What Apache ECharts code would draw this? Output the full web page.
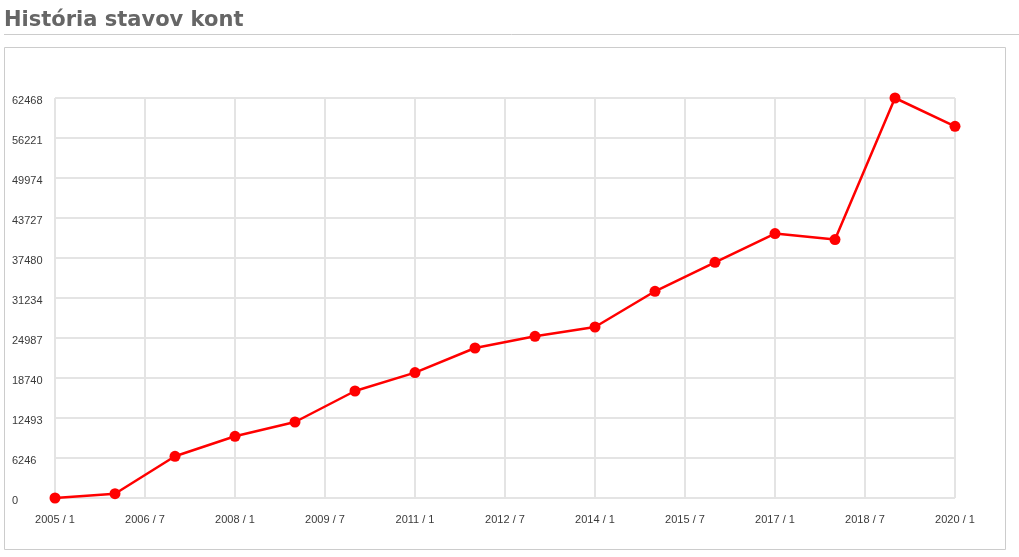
<!DOCTYPE html>
<html>
<head>
<meta charset="utf-8">
<script src="https://cdn.jsdelivr.net/npm/echarts@6/dist/echarts.min.js"></script>
<style>
html,body{margin:0;padding:0;background:#fff;}
#chart{width:1019px;height:557px;}
</style>
</head>
<body>
<div id="chart"></div>
<script>
// Data
var titleText = 'História stavov kont';
var years = [2005,2006,2007,2008,2009,2010,2011,2012,2013,2014,2015,2016,2017,2018,2019,2020];
var balances = [0,670,6512,9636,11869,16710,19584,23425,25253,26705,32281,36800,41290,40353,62468,58047];
var xTickLabels = ['2005 / 1','2006 / 7','2008 / 1','2009 / 7','2011 / 1','2012 / 7','2014 / 1','2015 / 7','2017 / 1','2018 / 7','2020 / 1'];
var yTickLabels = ['0','6246','12493','18740','24987','31234','37480','43727','49974','56221','62468'];

var baseYear = years[0];
var seriesData = years.map(function(y, i){ return [(y - baseYear) * 12, balances[i]]; });
var yMax = 62468;
var yStep = yMax / (yTickLabels.length - 1);
var xStep = 18;

var chart = echarts.init(document.getElementById('chart'), null, {renderer:'canvas'});
chart.setOption({
  animation:false,
  backgroundColor:'#fff',
  title:{
    text:titleText,
    left:4, top:10, padding:0,
    textStyle:{fontFamily:'DejaVu Sans, sans-serif', fontSize:21, fontWeight:'bold', color:'#666'}
  },
  graphic:[
    {type:'line', shape:{x1:4, y1:34.5, x2:1019, y2:34.5}, style:{stroke:'#cccccc', lineWidth:1}, silent:true},
    {type:'rect', shape:{x:4.5, y:47.5, width:1001, height:502}, style:{fill:null, stroke:'#cccccc', lineWidth:1}, silent:true}
  ],
  grid:{left:55, top:98, width:900, height:400, containLabel:false},
  xAxis:{
    type:'value', min:0, max:(years[years.length-1]-baseYear)*12, interval:xStep,
    axisLine:{show:false}, axisTick:{show:false},
    axisLabel:{
      margin:16, color:'#3a3a3a', fontSize:11, fontFamily:'Liberation Sans, Arial, sans-serif',
      formatter:function(v){ var i = Math.round(v / xStep); return xTickLabels[i] || ''; }
    },
    splitLine:{show:true, lineStyle:{color:'#e4e4e4', width:2}}
  },
  yAxis:{
    type:'value', min:0, max:yMax, interval:yStep,
    axisLine:{show:false}, axisTick:{show:false},
    axisLabel:{
      margin:43, align:'left', verticalAlign:'top', lineHeight:5,
      color:'#3a3a3a', fontSize:11, fontFamily:'Liberation Sans, Arial, sans-serif',
      formatter:function(v){ var i = Math.round(v / yStep); return yTickLabels[i] || ''; }
    },
    splitLine:{show:true, lineStyle:{color:'#e4e4e4', width:2}}
  },
  series:[{
    type:'line',
    data:seriesData,
    symbol:'circle', symbolSize:11,
    lineStyle:{color:'#ff0000', width:2.5},
    itemStyle:{color:'#ff0000'},
    clip:false
  }]
});
</script>
</body>
</html>
